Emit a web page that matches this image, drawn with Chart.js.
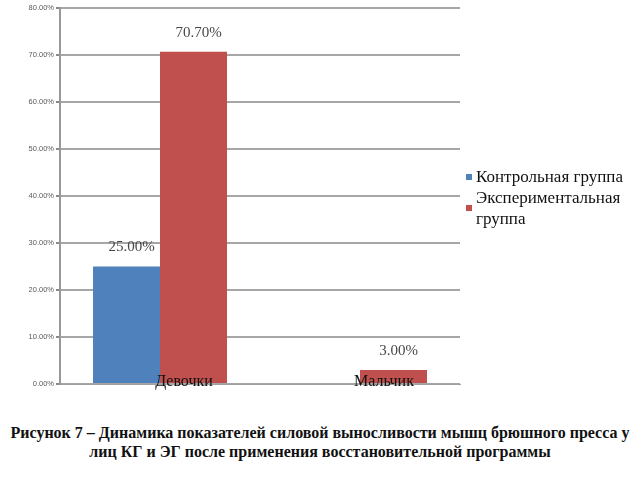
<!DOCTYPE html>
<html>
<head>
<meta charset="utf-8">
<script src="https://cdn.jsdelivr.net/npm/chart.js@4"></script>
<style>
  body { margin: 0; background: #fff; }
  #wrap { position: relative; width: 640px; height: 480px; }
  #chartBox { position: absolute; left: 0; top: 0; width: 640px; height: 400px; }
  #legend { position: absolute; left: 466px; top: 166px; font-family: "Liberation Serif", "Times New Roman", serif; font-size: 17px; color: #111; }
  .item { display: flex; align-items: center; }
  .item .sw { width: 6px; height: 6px; margin-right: 4px; flex: none; }
  .item .txt { width: 164px; line-height: 21px; }
  #caption { position: absolute; left: 0; top: 423px; width: 640px; text-align: center; font-family: "Liberation Serif", "Times New Roman", serif; font-weight: bold; font-size: 16px; line-height: 19px; color: #111; }
</style>
</head>
<body>
<div id="wrap">
  <div id="chartBox"><canvas id="chart"></canvas></div>
  <div id="legend"></div>
  <div id="caption">Рисунок 7 – Динамика показателей силовой выносливости мышц брюшного пресса у<br>лиц КГ и ЭГ после применения восстановительной программы</div>
</div>
<script>
// data
const categories = ["Девочки", "Мальчик"];
const seriesNames = ["Контрольная группа", "Экспериментальная группа"];
const controlValues = [25.0, null];
const experimentValues = [70.7, 3.0];
const seriesColors = ["#4f81bd", "#c0504d"];

// value labels above the bars + category names on top of the bars (like the original)
const overlayLabels = {
  id: "overlayLabels",
  afterDatasetsDraw(chart) {
    const ctx = chart.ctx;
    ctx.save();
    ctx.font = "15px 'Liberation Serif', serif";
    ctx.fillStyle = "#484848";
    ctx.textAlign = "center";
    ctx.textBaseline = "middle";
    chart.data.datasets.forEach((ds, i) => {
      chart.getDatasetMeta(i).data.forEach((bar, j) => {
        const v = ds.data[j];
        if (v === null || v === undefined) return;
        ctx.fillText(v.toFixed(2) + "%", bar.x + 5, bar.y - 19);
      });
    });

    const xs = chart.scales.x;
    ctx.font = "16px 'Liberation Serif', serif";
    ctx.fillStyle = "#111";
    chart.data.labels.forEach((lab, i) => {
      ctx.fillText(lab, xs.getPixelForValue(i) + 24, xs.top - 2);
    });
    ctx.restore();
  }
};

const ctx = document.getElementById("chart").getContext("2d");
new Chart(ctx, {
  type: "bar",
  data: {
    labels: categories,
    datasets: [
      { label: seriesNames[0], data: controlValues, backgroundColor: seriesColors[0] },
      { label: seriesNames[1], data: experimentValues, backgroundColor: seriesColors[1] }
    ]
  },
  options: {
    responsive: true,
    maintainAspectRatio: false,
    animation: false,
    categoryPercentage: 0.67,
    barPercentage: 1.0,
    layout: { padding: { left: 0, right: 180, top: 8, bottom: 0 } },
    plugins: {
      legend: { display: false },
      tooltip: { enabled: false }
    },
    scales: {
      x: {
        grid: { display: false },
        border: { display: true, color: "#a0a0a0" },
        ticks: { display: false },
        afterFit: s => { s.height = 16; }
      },
      y: {
        min: 0,
        max: 80,
        ticks: {
          stepSize: 10,
          color: "#595959",
          font: { family: "'Liberation Sans', Arial, sans-serif", size: 7.5 },
          padding: 2,
          callback: v => v.toFixed(2) + "%"
        },
        grid: { color: "#a6a6a6", lineWidth: 2, tickLength: 4, tickColor: "#888" },
        border: { display: true, color: "#999", width: 2 },
        afterFit: s => { s.width = 60; }
      }
    }
  },
  plugins: [overlayLabels]
});

// legend
const legend = document.getElementById("legend");
seriesNames.forEach((name, i) => {
  const row = document.createElement("div");
  row.className = "item";
  row.innerHTML = '<span class="sw" style="background:' + seriesColors[i] + '"></span><span class="txt">' + name + '</span>';
  legend.appendChild(row);
});
</script>
</body>
</html>
